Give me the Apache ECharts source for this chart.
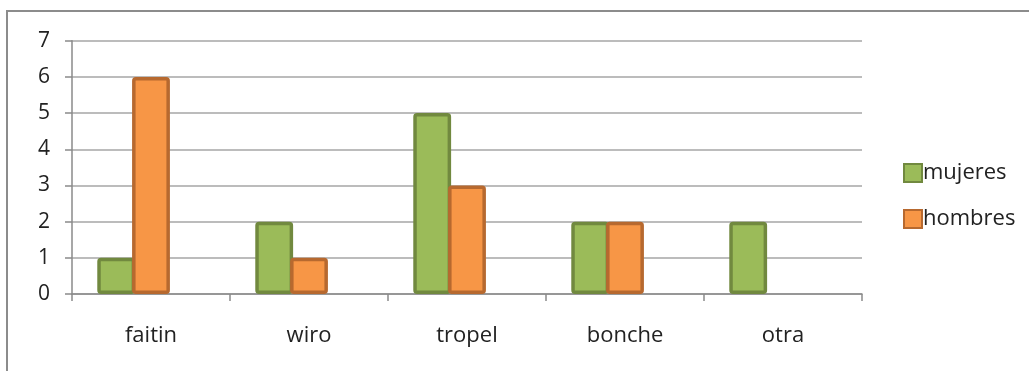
<!DOCTYPE html>
<html>
<head>
<meta charset="utf-8">
<script src="https://cdn.jsdelivr.net/npm/echarts@6/dist/echarts.min.js"></script>
<style>
  html, body { margin: 0; padding: 0; background: #fff; }
  #chart { width: 1029px; height: 371px; }
</style>
</head>
<body>
<div id="chart"></div>
<script>
const categories = ['faitin', 'wiro', 'tropel', 'bonche', 'otra'];
const mujeres = [1, 2, 5, 2, 2];
const hombres = [6, 1, 3, 2, 0];
const yTicks = [0, 1, 2, 3, 4, 5, 6, 7];

const FONT = '"Open Sans", "DejaVu Sans", sans-serif';

const chart = echarts.init(document.getElementById('chart'), null, { renderer: 'canvas' });

function barStyle(fill, border) {
  return {
    color: fill,
    borderColor: border,
    borderWidth: 3.5,
    borderRadius: 2
  };
}

chart.setOption({
  animation: false,
  backgroundColor: '#ffffff',
  graphic: [{
    type: 'rect',
    shape: { x: 7, y: 11, width: 1060, height: 400 },
    style: { fill: 'none', stroke: '#8c8c8c', lineWidth: 2 },
    silent: true,
    z: -1
  }],
  grid: { left: 72, right: 167, top: 40.7, bottom: 77 },
  legend: {
    data: ['mujeres', 'hombres'],
    orient: 'vertical',
    left: 898,
    top: 157,
    itemWidth: 18,
    itemHeight: 18,
    itemGap: 24,
    icon: 'rect',
    textStyle: { fontFamily: FONT, fontSize: 22, color: '#222', padding: [0, 0, 0, -4] }
  },
  xAxis: {
    type: 'category',
    data: categories,
    axisLine: { lineStyle: { color: '#8a8a8a', width: 1.5 } },
    axisTick: { show: true, length: 7, lineStyle: { color: '#8a8a8a', width: 1.5 } },
    axisLabel: { fontFamily: FONT, fontSize: 22, color: '#222', margin: 31 }
  },
  yAxis: {
    type: 'value',
    min: yTicks[0],
    max: yTicks[yTicks.length - 1],
    interval: 1,
    axisLine: { show: true, lineStyle: { color: '#8a8a8a', width: 1.5 } },
    axisTick: { show: true, length: 7, lineStyle: { color: '#8a8a8a', width: 1.5 } },
    axisLabel: { fontFamily: FONT, fontSize: 21, color: '#222', margin: 22 },
    splitLine: { lineStyle: { color: '#a6a6a6', width: 1.5 } }
  },
  series: [
    {
      name: 'mujeres',
      type: 'bar',
      data: mujeres,
      barGap: '-8%',
      barCategoryGap: '32%',
      itemStyle: barStyle('#9bbb59', '#71893f')
    },
    {
      name: 'hombres',
      type: 'bar',
      data: hombres.map(v => (v === 0 ? null : v)),
      itemStyle: barStyle('#f79646', '#b7692f')
    },
    {
      // third slot in each group, left empty
      name: 'otros',
      type: 'bar',
      data: categories.map(() => null)
    }
  ]
});
</script>
</body>
</html>
